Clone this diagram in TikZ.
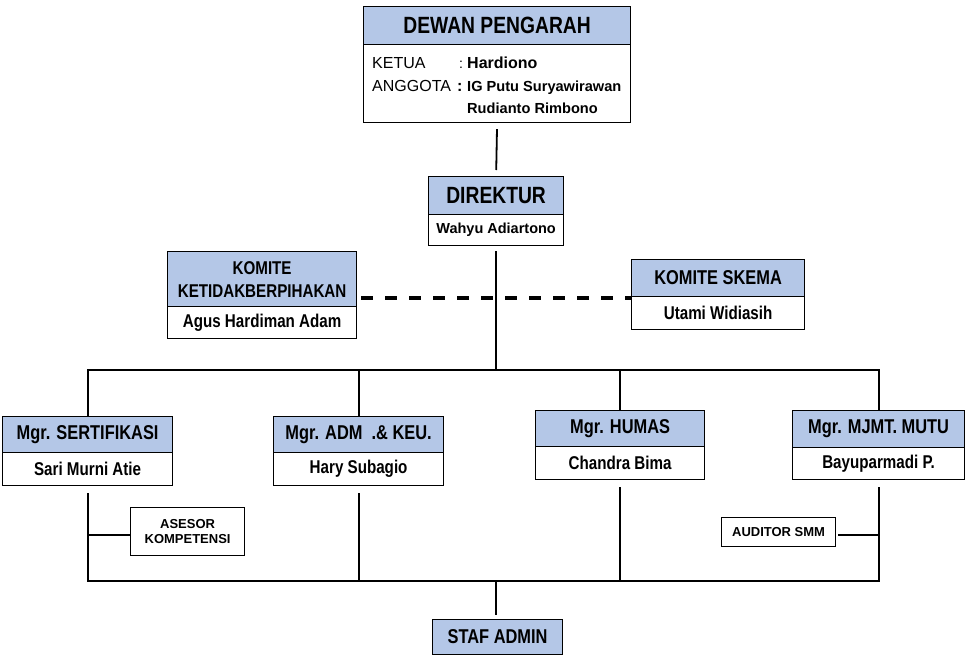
\documentclass[tikz,border=0pt]{standalone}
\usepackage{fontspec}
\setmainfont{Liberation Sans}
\newfontfamily\narrow[FakeStretch=0.82]{Liberation Sans}
\definecolor{hdrblue}{HTML}{B4C7E7}
\tikzset{
  box/.style={draw, line width=1.2pt, inner sep=0pt, anchor=north west},
  hdr/.style={box, fill=hdrblue, font=\narrow\bfseries\fontsize{20}{21}\selectfont},
  bigh/.style={box, fill=hdrblue, font=\narrow\bfseries\fontsize{23.5}{25}\selectfont},
  bdy/.style={box, fill=white, font=\narrow\bfseries\fontsize{18.5}{20}\selectfont},
  small/.style={box, fill=white, align=center, font=\bfseries\fontsize{13}{15.5}\selectfont},
  txt/.style={inner sep=0pt, anchor=base west},
  conn/.style={line width=1.8pt},
}
\begin{document}
\begin{tikzpicture}[x=1pt,y=-1pt]
\useasboundingbox (0,0) rectangle (968,665);
% Dewan Pengarah
\node[bigh, minimum width=267pt, minimum height=38pt] (dph) at (363,6) {DEWAN PENGARAH};
\node[bdy, minimum width=267pt, minimum height=78pt] (dpb) at (363,44) {};
\node[txt, font=\fontsize{16}{18}\selectfont] (ket) at (372,68) {KETUA};
\node[txt, font=\fontsize{16}{18}\selectfont] (ang) at (372,91) {ANGGOTA};
\node[txt, font=\fontsize{14}{16}\selectfont] (c1) at (459,68) {:};
\node[txt, font=\bfseries\fontsize{16}{18}\selectfont] (c2) at (457,91) {:};
\node[txt, font=\bfseries\fontsize{16}{18}\selectfont] (n1) at (467,68) {Hardiono};
\node[txt, font=\bfseries\fontsize{14.6}{17}\selectfont] (n2) at (467,91) {IG Putu Suryawirawan};
\node[txt, font=\bfseries\fontsize{14.6}{17}\selectfont] (n3) at (467,113) {Rudianto Rimbono};
% Direktur
\node[bigh, minimum width=135pt, minimum height=38pt] (dirh) at (428,176) {DIREKTUR};
\node[box, fill=white, minimum width=135pt, minimum height=31pt, font=\bfseries\fontsize{14.5}{16}\selectfont] (dirb) at (428,214) {Wahyu Adiartono};
% Komite
\node[hdr, align=center, minimum width=189pt, minimum height=55pt, font=\narrow\bfseries\fontsize{18.5}{23}\selectfont] (kkh) at (167,251) {KOMITE\\KETIDAKBERPIHAKAN};
\node[bdy, minimum width=189pt, minimum height=32pt] (kkb) at (167,306) {Agus Hardiman Adam};
\node[hdr, minimum width=173pt, minimum height=37pt] (ksh) at (631,259) {KOMITE SKEMA};
\node[bdy, minimum width=173pt, minimum height=33pt] (ksb) at (631,296) {Utami Widiasih};
% Managers
\node[hdr, minimum width=170pt, minimum height=36pt] (sh) at (2,416) {Mgr. SERTIFIKASI};
\node[bdy, minimum width=170pt, minimum height=33pt] (sb) at (2,452) {Sari Murni Atie};
\node[hdr, minimum width=170pt, minimum height=36pt] (ah) at (273,416) {Mgr. ADM~ .\& KEU.};
\node[bdy, minimum width=170pt, minimum height=33pt] (ab) at (273,452) {Hary Subagio};
\node[hdr, minimum width=169pt, minimum height=36pt] (hh) at (535,410) {Mgr. HUMAS};
\node[bdy, minimum width=169pt, minimum height=33pt] (hb) at (535,446) {Chandra Bima};
\node[hdr, minimum width=172pt, minimum height=37pt] (mh) at (792,410) {Mgr. MJMT. MUTU};
\node[bdy, minimum width=172pt, minimum height=32pt] (mb) at (792,447) {Bayuparmadi P.};
% Small boxes
\node[small, minimum width=114pt, minimum height=48pt] (as) at (130,507) {ASESOR\\KOMPETENSI};
\node[small, minimum width=114pt, minimum height=29pt] (au) at (721,517) {AUDITOR SMM};
\node[hdr, minimum width=130pt, minimum height=35pt] (staf) at (432,619) {STAF ADMIN};
% bus coordinates
\coordinate (busT) at (496,370);
\coordinate (busB) at (496,581);
% Connectors
\draw[conn, shorten <=6pt, shorten >=6pt] (dpb.south) -- (dirh.north);
\draw[conn, shorten <=5pt] (dirb.south) -- (dirb.south |- busT);
\draw[conn] (sh.north) |- (mh.north |- busT) -- (mh.north);
\draw[conn] (ah.north) -- (ah.north |- busT);
\draw[conn] (hh.north) -- (hh.north |- busT);
\draw[conn, shorten <=7pt, shorten >=7pt] (sb.south) |- (mb.south |- busB) -- (mb.south);
\draw[conn, shorten <=7pt] (ab.south) -- (ab.south |- busB);
\draw[conn, shorten <=7pt] (hb.south) -- (hb.south |- busB);
\draw[conn, shorten >=4pt] (busB) -- (busB |- staf.north);
\draw[conn, shorten >=1pt] ([yshift=-3pt]as.west) -- ([yshift=-3pt]as.west -| sb.south);
\draw[conn, shorten <=2pt] ([yshift=-3pt]au.east) -- ([yshift=-3pt]au.east -| mb.south);
\draw[line width=4pt, dash pattern=on 12pt off 12pt, shorten <=4pt] ([yshift=-0.5pt]kkh.east |- ksh.south west) -- ([yshift=-0.5pt]ksh.south west);
\end{tikzpicture}
\end{document}
